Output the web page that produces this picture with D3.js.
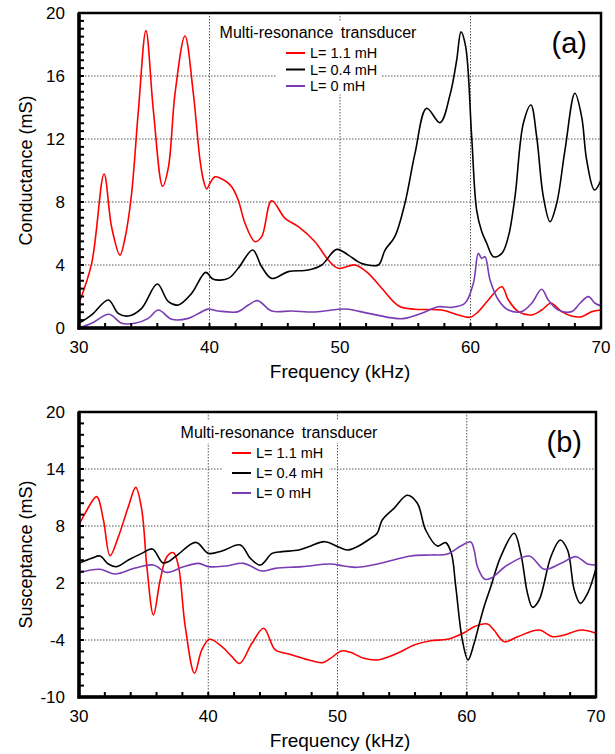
<!DOCTYPE html>
<html>
<head>
<meta charset="utf-8">
<script src="https://cdn.jsdelivr.net/npm/d3@7"></script>
<style>
  body { margin: 0; background: #fff; }
  svg text { font-family: "Liberation Sans", Arial, sans-serif; fill: #000; }
</style>
</head>
<body>
<div id="chart"></div>
<script>
// Frequency axis (kHz)
var freqTicks = [30, 40, 50, 60, 70];
var seriesNames = ["L= 1.1 mH", "L= 0.4 mH", "L= 0 mH"];
var seriesColors = ["#ff0000", "#000000", "#7a3cb4"];

// (a) Conductance (mS), [kHz, mS]
var condL11 = [[30,1.57],[30.97,4.1],[31.92,9.78],[32.5,6.4],[33.14,4.63],[33.5,5.6],[34.0,8.3],[34.55,13.8],
  [35.13,18.88],[35.7,13.8],[36.41,9.0],[36.85,10.2],[37.36,14.9],[38.12,18.54],[38.76,14.9],[39.27,10.67],
  [39.53,9.4],[39.78,8.83],[40.04,9.19],[40.42,9.6],[41.19,9.35],[41.7,8.97],[42.2,8.13],[42.72,6.65],
  [43.49,5.48],[44.0,5.8],[44.76,8.08],[45.79,6.96],[46.81,6.43],[48.08,5.48],[49.1,4.32],[49.87,3.79],
  [51.15,4.0],[52.17,3.47],[53.2,2.52],[54.5,1.4],[55.75,1.19],[57.8,1.14],[59.07,0.83],[59.97,0.68],
  [60.6,1.04],[61.37,1.78],[62.4,2.62],[62.9,1.78],[63.67,1.04],[64.69,0.83],[65.45,1.14],[66.17,1.57],
  [66.99,1.04],[67.75,0.76],[68.52,0.72],[69.3,1.04],[70,1.14]];
var condL04 = [[30,0.3],[30.97,0.83],[32.25,1.78],[33.0,0.93],[33.78,0.76],[34.8,1.25],[36.0,2.79],[36.85,1.67],
  [37.61,1.46],[38.63,2.2],[39.71,3.53],[40.29,3.09],[41.44,3.15],[42.2,3.79],[43.31,4.95],[44.0,3.89],
  [44.76,3.15],[46.04,3.58],[47.57,3.68],[48.6,4.0],[49.74,4.99],[50.64,4.63],[51.4,4.2],[51.9,4.04],
  [52.94,4.0],[53.45,4.95],[54.2,5.8],[54.97,7.9],[55.75,11.1],[56.64,13.95],[57.66,13.04],[58.43,14.8],
  [58.94,17.0],[59.27,18.8],[59.63,17.86],[60.09,12.15],[60.47,7.49],[60.86,6.12],[61.24,5.38],[61.75,4.53],
  [62.4,4.74],[62.9,5.8],[63.41,8.34],[64.05,13.0],[64.63,14.16],[65.07,12.15],[65.58,8.34],[66.09,6.75],
  [66.6,7.9],[67.24,11.3],[68.0,14.9],[68.52,13.4],[68.9,10.67],[69.5,8.76],[70,9.4]];
var condL0 = [[30,0.02],[30.97,0.3],[32.3,0.87],[33.27,0.3],[34.29,0.3],[35.31,0.61],[36.08,1.14],[37.1,0.55],
  [38.38,0.61],[39.27,0.97],[39.86,1.2],[40.68,1.08],[42.2,1.04],[42.98,1.46],[43.69,1.74],[44.76,1.08],
  [46.3,1.08],[48.08,1.02],[49.87,1.19],[50.64,1.19],[52.17,0.93],[54.22,0.61],[54.98,0.61],[56.25,0.93],
  [57.53,1.35],[58.55,1.31],[59.57,1.57],[60.22,2.84],[60.6,4.74],[60.86,4.42],[61.11,4.53],[61.5,3.05],
  [62.14,1.78],[62.9,1.14],[63.92,1.04],[64.69,1.57],[65.45,2.46],[65.96,1.78],[66.73,1.14],[67.75,1.04],
  [68.39,1.57],[69.03,1.99],[69.55,1.57],[70,1.4]];
var condTicks = [0, 4, 8, 12, 16, 20];

// (b) Susceptance (mS), [kHz, mS]
var suscL11 = [[30,8.1],[30.47,9.33],[31.37,11.09],[31.89,8.63],[32.4,4.88],[33.05,6.88],[33.82,10.04],[34.39,12.07],
  [34.86,9.68],[35.25,3.72],[35.76,-1.37],[36.28,2.32],[36.8,4.77],[37.31,5.19],[37.7,3.72],[38.22,-2.6],
  [38.94,-7.5],[39.5,-5.05],[40.1,-3.93],[41.06,-4.7],[41.83,-5.75],[42.43,-6.46],[43.38,-4.35],[44.29,-2.77],
  [45.19,-5.05],[46.23,-5.47],[47.78,-6.1],[48.81,-6.39],[49.46,-5.93],[50.3,-5.15],[51.0,-5.3],[52.04,-5.93],
  [53.07,-6.1],[54.63,-5.4],[55.92,-4.53],[57.21,-4.07],[58.5,-3.93],[59.79,-3.23],[60.57,-2.6],[61.6,-2.32],
  [62.1,-2.95],[62.9,-4.18],[63.93,-3.65],[65.6,-2.95],[66.64,-3.65],[67.55,-3.47],[68.84,-2.95],[70,-3.3]];
var suscL04 = [[30,4.07],[30.98,4.6],[31.63,4.84],[32.27,4.0],[32.92,3.72],[33.82,4.42],[34.86,5.12],[35.68,5.58],
  [36.46,4.14],[36.93,4.25],[37.7,5.05],[39.04,6.28],[40.03,5.12],[41.06,5.37],[42.48,6.0],[43.26,4.6],
  [44.03,3.89],[44.94,5.12],[45.71,5.3],[47.0,5.47],[47.78,5.82],[49.02,6.35],[50.03,5.82],[50.75,5.47],
  [51.52,5.82],[52.56,6.7],[53.07,7.23],[53.46,8.63],[54.37,9.86],[55.4,11.23],[56.18,10.39],[56.82,7.58],
  [57.73,5.89],[58.37,6.25],[58.81,5.12],[59.15,1.61],[59.66,-4.0],[60.1,-6.1],[60.57,-4.35],[60.95,-2.42],
  [61.34,-0.49],[61.86,1.61],[62.63,4.77],[63.67,7.23],[64.18,5.12],[64.7,0.91],[65.09,-0.56],[65.6,0.21],
  [66.51,4.77],[67.23,6.53],[67.8,5.47],[68.32,1.26],[68.79,-0.14],[69.35,0.91],[70,3.54]];
var suscL0 = [[30,3.09],[31.63,3.44],[32.8,2.95],[34.34,3.58],[35.76,3.89],[36.8,3.12],[37.96,3.65],[39.25,4.07],
  [40.03,3.72],[41.32,3.79],[42.74,4.07],[44.16,3.26],[45.19,3.54],[47.26,3.72],[49.46,4.0],[50.49,3.79],
  [51.52,3.65],[53.33,4.07],[55.66,4.84],[57.21,4.95],[58.5,5.05],[59.53,5.89],[60.31,6.32],[60.57,5.47],
  [60.83,3.72],[61.4,2.39],[61.86,2.49],[63.15,3.89],[64.83,4.84],[66.0,3.44],[67.29,4.07],[68.45,4.77],
  [69.35,4.0],[70,3.89]];
var suscTicks = [-10, -4, 2, 8, 14, 20];

var svg = d3.select("#chart").append("svg")
  .attr("width", 615)
  .attr("height", 754);

function drawPanel(opt) {
  var g = svg.append("g");
  var x = d3.scaleLinear().domain([30, 70]).range([opt.left, opt.right]);
  var y = d3.scaleLinear().domain([opt.ticks[0], opt.ticks[opt.ticks.length - 1]]).range([opt.bottom, opt.top]);

  // grid
  g.selectAll(".vgrid").data(freqTicks.slice(1, -1)).enter().append("line")
    .attr("x1", d => x(d)).attr("x2", d => x(d))
    .attr("y1", opt.top).attr("y2", opt.bottom)
    .attr("stroke", "#555").attr("stroke-width", 1).attr("stroke-dasharray", "1.5,1.5");
  g.selectAll(".hgrid").data(opt.ticks.slice(1, -1)).enter().append("line")
    .attr("x1", opt.left).attr("x2", opt.right)
    .attr("y1", d => y(d)).attr("y2", d => y(d))
    .attr("stroke", "#555").attr("stroke-width", 1).attr("stroke-dasharray", "1.5,1.5");

  // legend backgrounds
  g.append("rect").attr("x", opt.leg.tx - 106).attr("y", opt.leg.ty - 12)
    .attr("width", 212).attr("height", 22).attr("fill", "#fff");
  g.append("rect").attr("x", opt.leg.bx).attr("y", opt.leg.ty + 10)
    .attr("width", opt.leg.bw).attr("height", opt.leg.dy * 3 + 2).attr("fill", "#fff");

  // curves
  var clipId = "clip" + opt.name;
  svg.append("clipPath").attr("id", clipId).append("rect")
    .attr("x", opt.left).attr("y", opt.top)
    .attr("width", opt.right - opt.left).attr("height", opt.bottom - opt.top);
  var line = d3.line()
    .x(d => x(d[0])).y(d => y(d[1]))
    .curve(d3.curveCatmullRom.alpha(0.5));
  opt.series.forEach(function(s, i) {
    g.append("path")
      .attr("d", line(s))
      .attr("clip-path", "url(#" + clipId + ")")
      .attr("fill", "none")
      .attr("stroke", seriesColors[i])
      .attr("stroke-width", 1.6);
  });

  // minor ticks (inward)
  var xMinor = d3.range(32, 70, 2);
  g.selectAll(".xt").data(xMinor).enter().append("line")
    .attr("x1", d => x(d)).attr("x2", d => x(d))
    .attr("y1", opt.bottom).attr("y2", opt.bottom - 5)
    .attr("stroke", "#000").attr("stroke-width", 2);
  var yMinor = d3.range(opt.ticks[0] + opt.minor, opt.ticks[opt.ticks.length - 1] - 0.01, opt.minor);
  g.selectAll(".yt").data(yMinor).enter().append("line")
    .attr("x1", opt.left).attr("x2", opt.left + 5)
    .attr("y1", d => y(d)).attr("y2", d => y(d))
    .attr("stroke", "#000").attr("stroke-width", 2);

  // frame
  g.append("rect")
    .attr("x", opt.left).attr("y", opt.top)
    .attr("width", opt.right - opt.left).attr("height", opt.bottom - opt.top)
    .attr("fill", "none").attr("stroke", "#000").attr("stroke-width", 2.5);
  g.append("line").attr("x1", opt.left).attr("x2", opt.left)
    .attr("y1", opt.top).attr("y2", opt.bottom + 1.5)
    .attr("stroke", "#000").attr("stroke-width", 3.5);
  g.append("line").attr("x1", opt.left - 1.5).attr("x2", opt.right)
    .attr("y1", opt.bottom).attr("y2", opt.bottom)
    .attr("stroke", "#000").attr("stroke-width", 3.5);

  // tick labels
  g.selectAll(".xl").data(freqTicks).enter().append("text")
    .attr("x", d => x(d)).attr("y", opt.bottom + 25)
    .attr("text-anchor", "middle").attr("font-size", 17)
    .text(d => d);
  g.selectAll(".yl").data(opt.ticks).enter().append("text")
    .attr("x", opt.left - 14).attr("y", d => y(d) + 6)
    .attr("text-anchor", "end").attr("font-size", 17)
    .text(d => d);

  // axis titles
  g.append("text")
    .attr("x", 340).attr("y", opt.bottom + 50)
    .attr("text-anchor", "middle").attr("font-size", 19)
    .text("Frequency (kHz)");
  g.append("text")
    .attr("transform", "translate(32," + ((opt.top + opt.bottom) / 2) + ") rotate(-90)")
    .attr("text-anchor", "middle").attr("font-size", 18)
    .text(opt.yTitle);

  // panel tag
  g.append("text")
    .attr("x", opt.right - 14).attr("y", opt.top + 40)
    .attr("text-anchor", "end").attr("font-size", 29)
    .text(opt.tag);

  // legend
  g.append("text")
    .attr("x", opt.leg.tx).attr("y", opt.leg.ty + 5)
    .attr("text-anchor", "middle").attr("font-size", 16)
    .attr("word-spacing", 3)
    .text("Multi-resonance transducer");
  seriesNames.forEach(function(n, i) {
    var yy = opt.leg.ty + 20 + i * opt.leg.dy;
    g.append("line")
      .attr("x1", opt.leg.lx).attr("x2", opt.leg.lx + 19)
      .attr("y1", yy).attr("y2", yy)
      .attr("stroke", seriesColors[i]).attr("stroke-width", 2);
    g.append("text")
      .attr("x", opt.leg.lx + 24).attr("y", yy + 5)
      .attr("font-size", 14.5)
      .text(n);
  });
}

drawPanel({
  name: "a", left: 79, right: 601, top: 13, bottom: 328,
  ticks: condTicks, minor: 0.5, yTitle: "Conductance (mS)", tag: "(a)",
  series: [condL11, condL04, condL0],
  leg: { tx: 318, ty: 33, lx: 286, bx: 277, bw: 105, dy: 16.5 }
});

drawPanel({
  name: "b", left: 79, right: 596, top: 412, bottom: 697,
  ticks: suscTicks, minor: 1.2, yTitle: "Susceptance (mS)", tag: "(b)",
  series: [suscL11, suscL04, suscL0],
  leg: { tx: 279, ty: 433, lx: 232, bx: 223, bw: 106, dy: 20 }
});
</script>
</body>
</html>
